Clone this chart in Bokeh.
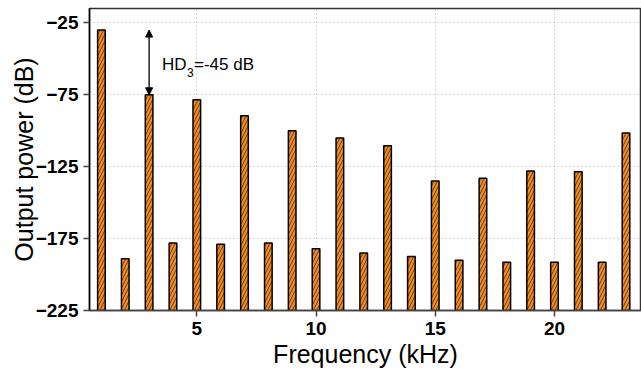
from bokeh.plotting import figure
from bokeh.models import ColumnDataSource, Range1d, FixedTicker, Arrow, NormalHead
from bokeh.core.properties import value
from bokeh.embed import file_html
from bokeh.resources import INLINE

harmonics = list(range(1, 24))
power_db = [-30, -189, -75, -178, -78.5, -179, -89.5, -178, -100, -182,
            -105, -185, -110.5, -187.5, -135, -190, -133, -191.5, -128, -191.5,
            -128.5, -191.5, -101.5]
x_ticks = [5, 10, 15, 20]
y_ticks = [-25, -75, -125, -175, -225]
annot_x = 3
annot_top = -30
annot_bottom = -75

src = ColumnDataSource(dict(x=harmonics, top=power_db))

p = figure(width=641, height=374, output_backend="svg", toolbar_location=None,
           x_range=Range1d(0.5, 23.65), y_range=Range1d(-225, -15),
           min_border_left=89, min_border_right=0, min_border_top=8, min_border_bottom=64)

p.vbar(x="x", top="top", bottom=-225, width=0.32, source=src,
       fill_color="#F68C22", line_color="black", line_width=1.5,
       hatch_pattern="/", hatch_color="#1a1a1a", hatch_scale=7, hatch_weight=0.7)

p.add_layout(Arrow(x_start=annot_x, y_start=annot_bottom, x_end=annot_x, y_end=annot_top,
                   line_color="black", line_width=1.3,
                   start=NormalHead(size=7, fill_color="black", line_color="black"),
                   end=NormalHead(size=7, fill_color="black", line_color="black")))

font = value("Liberation Sans")
p.text(x=[3.54], y=[-54], text=["HD"], text_font=font, text_font_size="17px",
       text_baseline="middle", text_align="left", text_color="black")
p.text(x=[3.54], y=[-54], text=["3"], text_font=font, text_font_size="12px",
       text_baseline="middle", text_align="left", text_color="black",
       x_offset=25, y_offset=8)
p.text(x=[3.54], y=[-54], text=["=-45 dB"], text_font=font, text_font_size="17px",
       text_baseline="middle", text_align="left", text_color="black",
       x_offset=32)

p.outline_line_color = "#333333"
p.outline_line_width = 1.5

p.xaxis.ticker = FixedTicker(ticks=x_ticks)
p.yaxis.ticker = FixedTicker(ticks=y_ticks)
p.yaxis.major_label_overrides = {t: "\u2212" + str(abs(t)) for t in y_ticks}
for ax in (p.xaxis, p.yaxis):
    ax.minor_tick_line_color = None
    ax.major_tick_out = 6
    ax.major_tick_in = 0
    ax.major_label_text_font = "Liberation Sans"
    ax.major_label_text_font_style = "bold"
    ax.major_label_text_font_size = "19px"
    ax.major_label_text_color = "black"
    ax.axis_label_text_font = "Liberation Sans"
    ax.axis_label_text_font_style = "normal"
    ax.axis_label_text_font_size = "25px"
    ax.axis_label_text_color = "black"
    ax.axis_line_width = 1.5
    ax.major_tick_line_width = 1.5
p.xaxis.axis_line_color = "#444444"
p.xaxis.major_tick_line_color = "#444444"
p.yaxis.axis_line_color = "black"
p.yaxis.major_tick_line_color = "#444444"
p.xaxis.axis_label = "Frequency (kHz)"
p.yaxis.axis_label = "Output power (dB)"
p.xaxis.major_label_standoff = 5
p.xaxis.axis_label_standoff = 2
p.yaxis.major_label_standoff = 5
p.yaxis.axis_label_standoff = -5

p.grid.grid_line_color = "#b0b0b0"
p.grid.grid_line_dash = "1 3"
p.grid.grid_line_width = 1
p.background_fill_color = "white"
p.border_fill_color = "white"

open("out.html", "w").write(file_html(p, INLINE))
